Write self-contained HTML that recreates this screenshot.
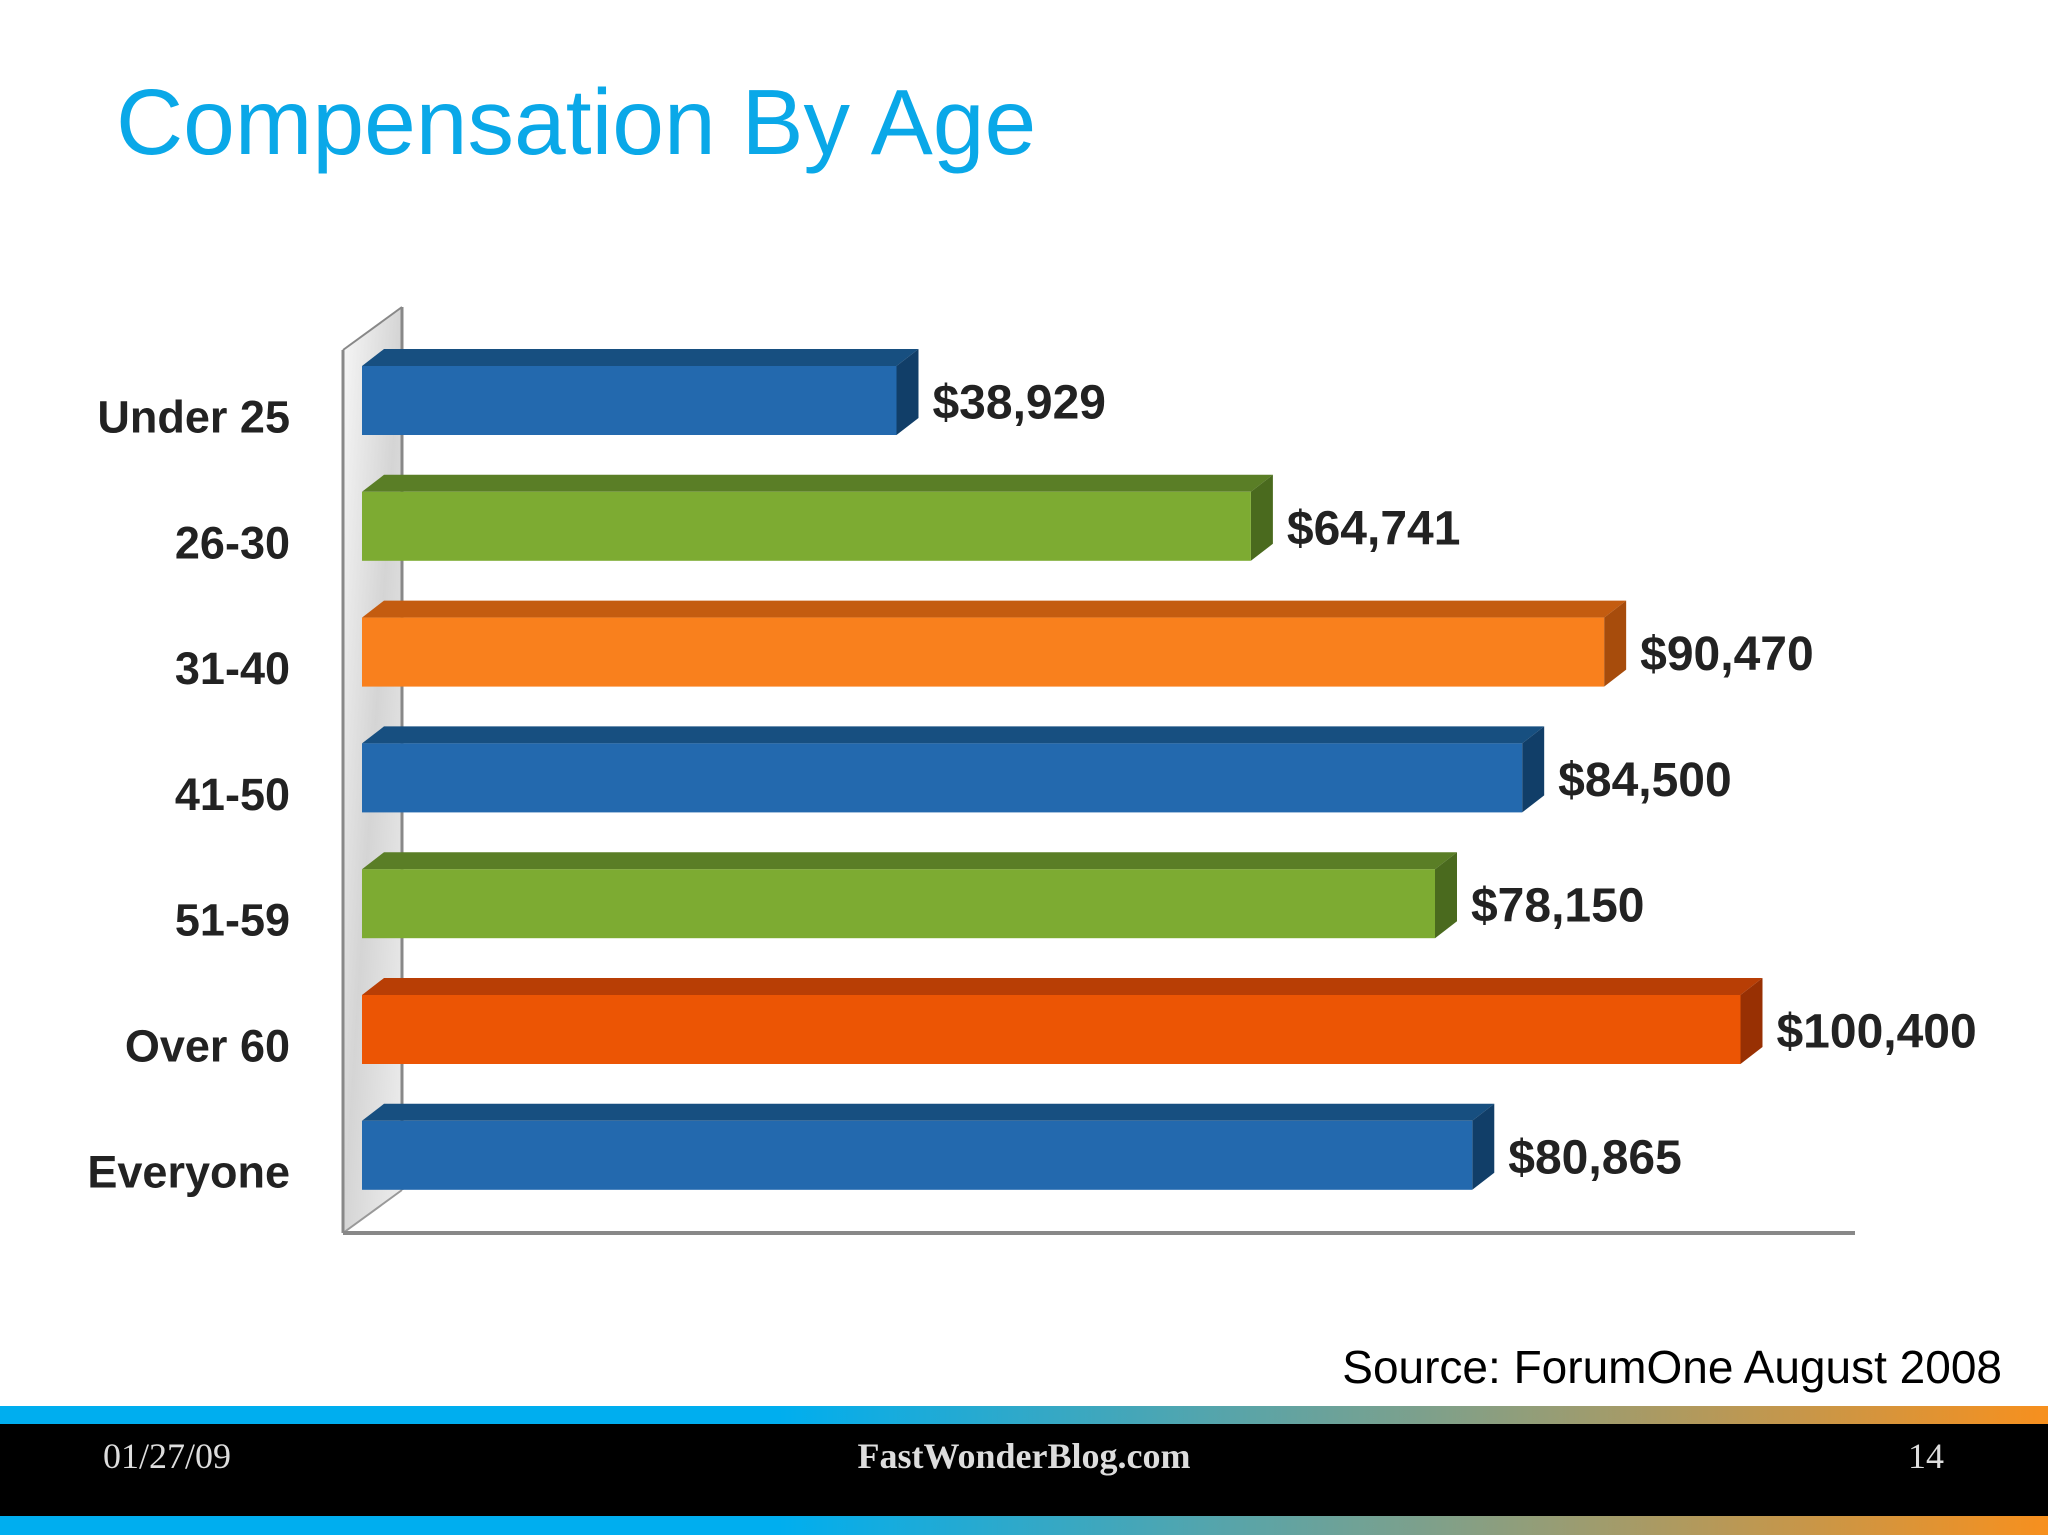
<!DOCTYPE html>
<html><head><meta charset="utf-8"><style>
html,body{margin:0;padding:0;background:#fff;}
svg{display:block;}
</style></head><body>
<svg width="2048" height="1535" viewBox="0 0 2048 1535" xmlns="http://www.w3.org/2000/svg">
<defs>
<linearGradient id="stripe" x1="0" x2="1" y1="0" y2="0">
<stop offset="0" stop-color="#00aeef"/><stop offset="0.38" stop-color="#00aeef"/>
<stop offset="0.7" stop-color="#7fa08a"/><stop offset="1" stop-color="#f7901e"/>
</linearGradient>
<linearGradient id="wall" x1="0" x2="1" y1="0" y2="1">
<stop offset="0" stop-color="#eee"/><stop offset="0.5" stop-color="#aaa"/><stop offset="1" stop-color="#ddd"/>
</linearGradient>
</defs>
<text x="116" y="154" font-family="Liberation Sans, sans-serif" font-size="93" fill="#0aa8e8">Compensation By Age</text>
<g id="chart">
<polygon points="343,350 402,307 402,1190 343,1233" fill="url(#wall)" opacity="0.5"/>
<line x1="343" y1="350" x2="343" y2="1233" stroke="#888" stroke-width="3"/>
<line x1="402" y1="307" x2="402" y2="1190" stroke="#888" stroke-width="3"/>
<line x1="343" y1="350" x2="402" y2="307" stroke="#888" stroke-width="2"/>
<line x1="343" y1="1233" x2="402" y2="1190" stroke="#999" stroke-width="2"/>
<line x1="343" y1="1233" x2="1855" y2="1233" stroke="#888" stroke-width="4"/>
<g id="bars"></g>
</g>
<text x="2002" y="1383" text-anchor="end" font-family="Liberation Sans, sans-serif" font-size="46" fill="#000">Source: ForumOne August 2008</text>
<rect x="0" y="1406" width="2048" height="18" fill="url(#stripe)"/>
<rect x="0" y="1424" width="2048" height="92" fill="#000"/>
<rect x="0" y="1516" width="2048" height="19" fill="url(#stripe)"/>
<text x="103" y="1468" font-family="Liberation Serif, serif" font-size="36" fill="#ddd">01/27/09</text>
<text x="1024" y="1468" text-anchor="middle" font-family="Liberation Serif, serif" font-weight="bold" font-size="36" fill="#ddd">FastWonderBlog.com</text>
<text x="1944" y="1468" text-anchor="end" font-family="Liberation Serif, serif" font-size="36" fill="#ddd">14</text>
</svg>
<script>
const categories = ["Under 25","26-30","31-40","41-50","51-59","Over 60","Everyone"];
const values = [38929,64741,90470,84500,78150,100400,80865];
const valueLabels = ["$38,929","$64,741","$90,470","$84,500","$78,150","$100,400","$80,865"];
const colorKeys = ["blue","green","orange","blue","green","red","blue"];
const palette = {
  blue:{front:"#2369ae",top:"#174f80",side:"#113e68"},
  green:{front:"#7dab32",top:"#5a7e26",side:"#4a6a1e"},
  orange:{front:"#f9801d",top:"#c45c10",side:"#a74c0c"},
  red:{front:"#ec5504",top:"#b83e05",side:"#983003"}
};
const NS="http://www.w3.org/2000/svg";
const x0=362, scale=0.01373, y0=366, step=125.8, h=69, dx=22, dy=17;
const xs=v=>x0+v*scale;
const ys=i=>y0+i*step;
const g=document.getElementById('bars');
function mk(tag,attrs){const e=document.createElementNS(NS,tag);for(const k in attrs)e.setAttribute(k,attrs[k]);g.appendChild(e);return e;}
categories.forEach((c,i)=>{
  const y=ys(i), xe=xs(values[i]), p=palette[colorKeys[i]];
  const top=mk('polygon',{points:`${x0},${y} ${x0+dx},${y-dy} ${xe+dx},${y-dy} ${xe},${y}`,fill:p.top});
  
  
  const side=mk('polygon',{points:`${xe},${y} ${xe+dx},${y-dy} ${xe+dx},${y+h-dy} ${xe},${y+h}`,fill:p.side});
  
  
  const r=mk('rect',{x:x0,y:y,width:xe-x0,height:h,fill:p.front});
  
  
  const t=mk('text',{x:290,y:y+h/2+32,'text-anchor':'end','font-family':'Liberation Sans Narrow, Liberation Sans, sans-serif','font-weight':'bold','font-size':45,fill:'#222'});
  t.textContent=c;
  
  
  const v=mk('text',{x:xe+dx+14,y:y+h/2+18,'font-family':'Liberation Sans Narrow, Liberation Sans, sans-serif','font-weight':'bold','font-size':48,fill:'#222'});
  v.textContent=valueLabels[i];
  
  
});
</script>
</body></html>
